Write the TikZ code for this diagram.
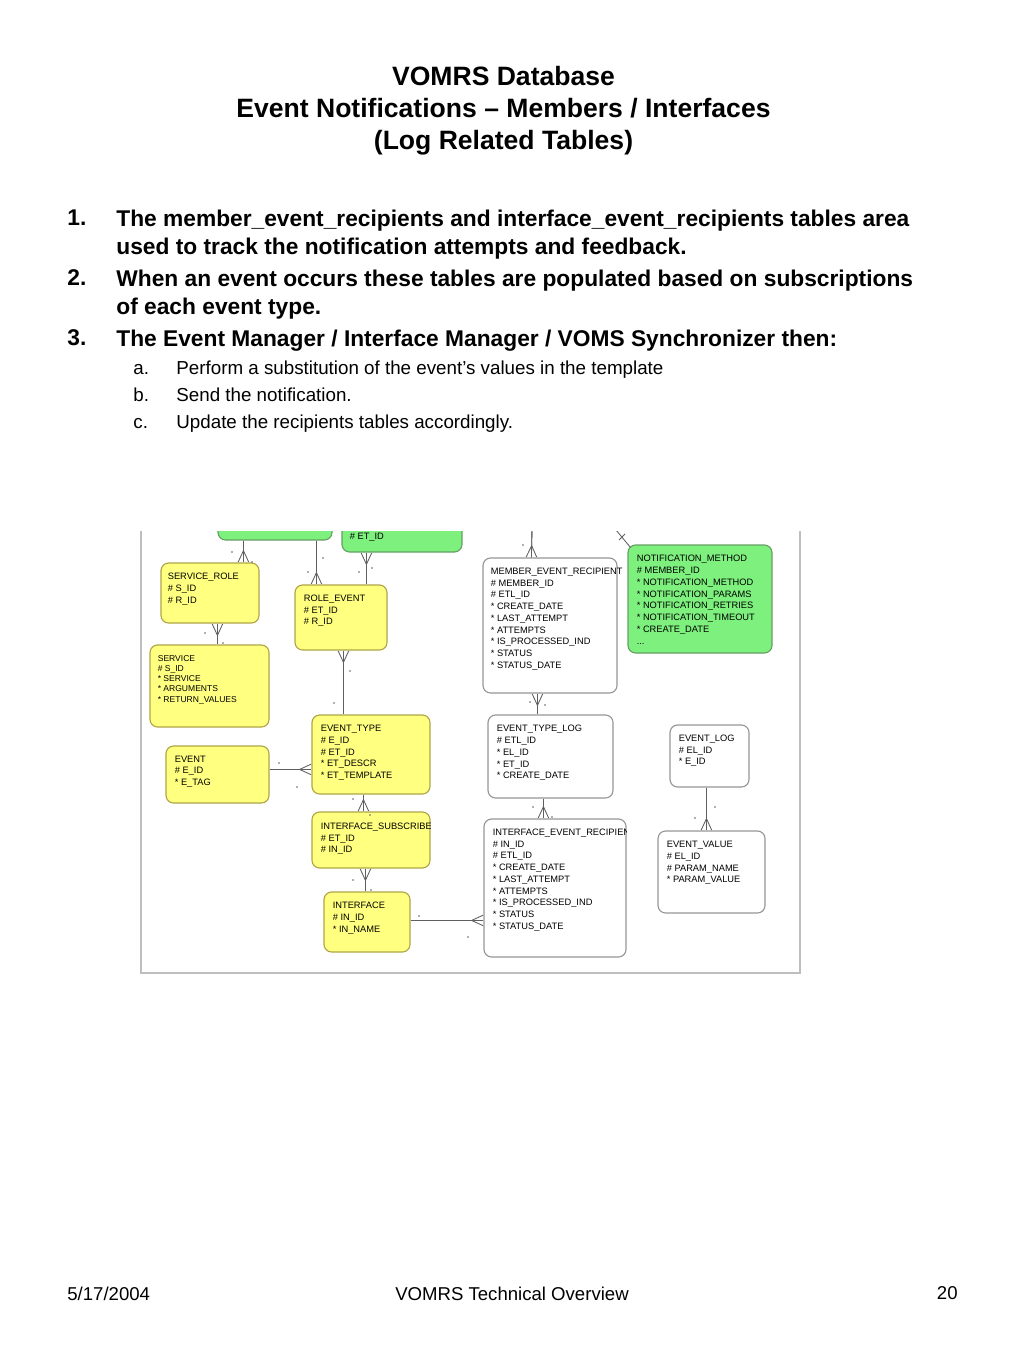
\documentclass[tikz,border=0pt]{standalone}
\usepackage{fontspec}
\setmainfont{Liberation Sans}
\newfontfamily\erdfont{Liberation Sans}
\usepackage{tikz}
\usetikzlibrary{arrows.meta,positioning,calc,fit}
\definecolor{erdyellow}{RGB}{255, 255, 128}
\definecolor{erdyellowline}{RGB}{175, 165, 70}
\definecolor{erdgreen}{RGB}{125, 240, 125}
\definecolor{erdgreenline}{RGB}{100, 160, 100}
\definecolor{erdgrayline}{RGB}{150, 150, 150}
\definecolor{relgray}{RGB}{95, 95, 95}
\definecolor{framegray}{RGB}{190, 190, 190}
\newcommand{\fpk}{\#\ }
\newcommand{\fat}{*\ }

\begin{document}
\begin{tikzpicture}[
    x=0.5273pt, y=-0.5273pt,
    ybox/.style={rectangle, rounded corners=4pt, draw=erdyellowline, fill=erdyellow, line width=0.6pt, inner sep=0pt},
    gbox/.style={rectangle, rounded corners=4pt, draw=erdgreenline, fill=erdgreen, line width=0.6pt, inner sep=0pt},
    wbox/.style={rectangle, rounded corners=4pt, draw=erdgrayline, fill=white, line width=0.6pt, inner sep=0pt},
    fld/.style={anchor=north west, inner sep=0pt, align=left, font=\erdfont\fontsize{4.9}{6.2}\selectfont},
    smallfld/.style={fld, font=\erdfont\fontsize{4.5}{5.4}\selectfont},
    rel/.style={draw=relgray, line width=0.45pt},
    crowend/.style={postaction={draw=relgray, line width=0.45pt, -{Straight Barb[reversed, length=6pt, width=5.5pt]}}},
    crowstart/.style={postaction={draw=relgray, line width=0.45pt, {Straight Barb[reversed, length=6pt, width=5.5pt]}-}},
    frame/.style={draw=framegray, line width=0.8pt},
    heading/.style={font=\bfseries\fontsize{14}{16.9}\selectfont, align=center, anchor=north, inner sep=0pt},
    itemnum/.style={font=\bfseries\fontsize{12}{14.8}\selectfont, anchor=north west, inner sep=0pt},
    itemtxt/.style={itemnum, align=left},
    subnum/.style={font=\fontsize{9.9}{14.2}\selectfont, anchor=base west, inner sep=0pt},
    footer/.style={font=\fontsize{9.8}{11}\selectfont, anchor=north, inner sep=0pt},
]
\useasboundingbox (0,0) rectangle (1024,1365);

% Title
\node[heading] (title) at (503.5,65.5) {VOMRS Database\\Event Notifications – Members / Interfaces\\(Log Related Tables)};

% Numbered items
\node[itemnum] (n1) at (67,209.5) {1.};
\node[itemtxt] (t1) at (116,209.5) {The member\_event\_recipients and interface\_event\_recipients tables area\\used to track the notification attempts and feedback.};
\node[itemnum] (n2) at (67,269.5) {2.};
\node[itemtxt] (t2) at (116,269.5) {When an event occurs these tables are populated based on subscriptions\\of each event type.};
\node[itemnum] (n3) at (67,329.5) {3.};
\node[itemtxt] (t3) at (116,329.5) {The Event Manager / Interface Manager / VOMS Synchronizer then:};
\node[subnum] (na) at (133,374.7) {a.};
\node[subnum] (ta) at (176,374.7) {Perform a substitution of the event’s values in the template};
\node[subnum] (nb) at (133,401.7) {b.};
\node[subnum] (tb) at (176,401.7) {Send the notification.};
\node[subnum] (nc) at (133,428.7) {c.};
\node[subnum] (tc) at (176,428.7) {Update the recipients tables accordingly.};

% Schema screenshot
\begin{scope}
\clip (141,531) rectangle (800,973);
% cut-off tables at the top
\node[gbox, fit={(218,480) (332,540)}] (grnA) {};
\node[gbox, fit={(342,480) (462,552)}] (grnB) {};
\node[fld, anchor=west] (grnBtxt) at ($(grnB.south west)+(8,-15)$) {\fpk ET\_ID};
% yellow tables
\node[ybox, fit={(161,563) (259,623)}] (sr) {};
\node[fld] (srtxt) at ($(sr.north west)+(7,10.5)$) {SERVICE\_ROLE\\\fpk S\_ID\\\fpk R\_ID};
\node[ybox, fit={(295,585) (387,650)}] (re) {};
\node[fld] (retxt) at ($(re.north west)+(9,10)$) {ROLE\_EVENT\\\fpk ET\_ID\\\fpk R\_ID};
\node[ybox, fit={(150,645) (269,727)}] (svc) {};
\node[smallfld] (svctxt) at ($(svc.north west)+(8,10.5)$) {SERVICE\\\fpk S\_ID\\\fat SERVICE\\\fat ARGUMENTS\\\fat RETURN\_VALUES};
\node[ybox, fit={(312,715) (430,794)}] (et) {};
\node[fld] (ettxt) at ($(et.north west)+(9,10.5)$) {EVENT\_TYPE\\\fpk E\_ID\\\fpk ET\_ID\\\fat ET\_DESCR\\\fat ET\_TEMPLATE};
\node[ybox, fit={(166,746) (269,803)}] (ev) {};
\node[fld] (evtxt) at ($(ev.north west)+(9,10)$) {EVENT\\\fpk E\_ID\\\fat E\_TAG};
\node[ybox, fit={(312,812) (430,868)}] (isub) {};
\begin{scope}
\clip (isub.north west) rectangle (isub.south east);
\node[fld] (isubtxt) at ($(isub.north west)+(9,11)$) {INTERFACE\_SUBSCRIBER\\\fpk ET\_ID\\\fpk IN\_ID};
\end{scope}
\node[ybox, fit={(324,892) (410,952)}] (intf) {};
\node[fld] (intftxt) at ($(intf.north west)+(9,10.5)$) {INTERFACE\\\fpk IN\_ID\\\fat IN\_NAME};
% white and green tables
\node[wbox, fit={(483,558) (617,693)}] (mer) {};
\node[fld] (mertxt) at ($(mer.north west)+(8,10)$) {MEMBER\_EVENT\_RECIPIENT\\\fpk MEMBER\_ID\\\fpk ETL\_ID\\\fat CREATE\_DATE\\\fat LAST\_ATTEMPT\\\fat ATTEMPTS\\\fat IS\_PROCESSED\_IND\\\fat STATUS\\\fat STATUS\_DATE};
\node[gbox, fit={(628,545) (772,653)}] (nm) {};
\node[fld] (nmtxt) at ($(nm.north west)+(9,10.5)$) {NOTIFICATION\_METHOD\\\fpk MEMBER\_ID\\\fat NOTIFICATION\_METHOD\\\fat NOTIFICATION\_PARAMS\\\fat NOTIFICATION\_RETRIES\\\fat NOTIFICATION\_TIMEOUT\\\fat CREATE\_DATE\\...};
\node[wbox, fit={(488,715) (613,798)}] (etl) {};
\node[fld] (etltxt) at ($(etl.north west)+(9,10.5)$) {EVENT\_TYPE\_LOG\\\fpk ETL\_ID\\\fat EL\_ID\\\fat ET\_ID\\\fat CREATE\_DATE};
\node[wbox, fit={(670,725) (749,787)}] (el) {};
\node[fld] (eltxt) at ($(el.north west)+(9,10)$) {EVENT\_LOG\\\fpk EL\_ID\\\fat E\_ID};
\node[wbox, fit={(484,819) (626,957)}] (ier) {};
\begin{scope}
\clip (ier.north west) rectangle (ier.south east);
\node[fld] (iertxt) at ($(ier.north west)+(9,10)$) {INTERFACE\_EVENT\_RECIPIENT\\\fpk IN\_ID\\\fpk ETL\_ID\\\fat CREATE\_DATE\\\fat LAST\_ATTEMPT\\\fat ATTEMPTS\\\fat IS\_PROCESSED\_IND\\\fat STATUS\\\fat STATUS\_DATE};
\end{scope}
\node[wbox, fit={(658,831) (765,913)}] (evv) {};
\node[fld] (evvtxt) at ($(evv.north west)+(9,10.5)$) {EVENT\_VALUE\\\fpk EL\_ID\\\fpk PARAM\_NAME\\\fat PARAM\_VALUE};

% Relationships
\coordinate (merfree) at (532,528);
\coordinate (nmfree) at (616,530);
\draw[rel, crowend] ($(grnA.south west)+(26,0)$) -- ($(sr.north west)+(83,0)$);
\draw[rel, crowend] ($(grnA.south west)+(99,0)$) -- ($(re.north west)+(22,0)$);
\draw[rel, crowstart] ($(grnB.south west)+(25,0)$) -- ($(re.north west)+(72,0)$);
\draw[rel, crowstart] ($(sr.south west)+(57,0)$) -- ($(svc.north west)+(68,0)$);
\draw[rel, crowstart] ($(re.south west)+(49,0)$) -- ($(et.north west)+(32,0)$);
\draw[rel, crowend] ($(ev.north east)+(0,24)$) -- ($(et.north west)+(0,55)$);
\draw[rel, crowend] ($(et.south west)+(52,0)$) -- ($(isub.north west)+(52,0)$);
\draw[rel, crowstart] ($(isub.south west)+(54,0)$) -- ($(intf.north west)+(42,0)$);
\draw[rel, crowend] ($(intf.north east)+(0,29)$) -- ($(ier.north west)+(0,102)$);
\draw[rel, crowend] (merfree) -- ($(mer.north west)+(49,0)$);
\draw[rel, crowstart] ($(mer.south west)+(55,0)$) -- ($(etl.north west)+(50,0)$);
\draw[rel, crowend] ($(etl.south west)+(56,0)$) -- ($(ier.north west)+(60,0)$);
\draw[rel, crowend] ($(el.south west)+(37,0)$) -- ($(evv.north west)+(49,0)$);
\draw[rel] (nmfree) -- ($(nm.north west)+(3,3)$);
\draw[rel] (619,540) -- (625,534);

% optionality dots
\fill[relgray] (232,552) circle (0.9) (252,562) circle (0.9) (323,558) circle (0.9) (308,572) circle (0.9)
  (359,572) circle (0.9) (372,568) circle (0.9) (205,633) circle (0.9) (223,643) circle (0.9)
  (350,671) circle (0.9) (334,703) circle (0.9) (279,763) circle (0.9) (297,787) circle (0.9)
  (353,799) circle (0.9) (370,815) circle (0.9) (353,880) circle (0.9) (371,890) circle (0.9)
  (419,916) circle (0.9) (468,937) circle (0.9) (523,545) circle (0.9) (530,702) circle (0.9)
  (545,705) circle (0.9) (533,807) circle (0.9) (552,817) circle (0.9) (695,818) circle (0.9)
  (715,807) circle (0.9);
\end{scope}
\draw[frame] (141,531) -- (141,973) -- (800,973) -- (800,531);

% Footer
\node[footer, anchor=north west] (date) at (67,1286.5) {5/17/2004};
\node[footer] (doc) at (512,1286.5) {VOMRS Technical Overview};
\node[footer, anchor=north east] (page) at (958,1286.5) {20};
\end{tikzpicture}
\end{document}
